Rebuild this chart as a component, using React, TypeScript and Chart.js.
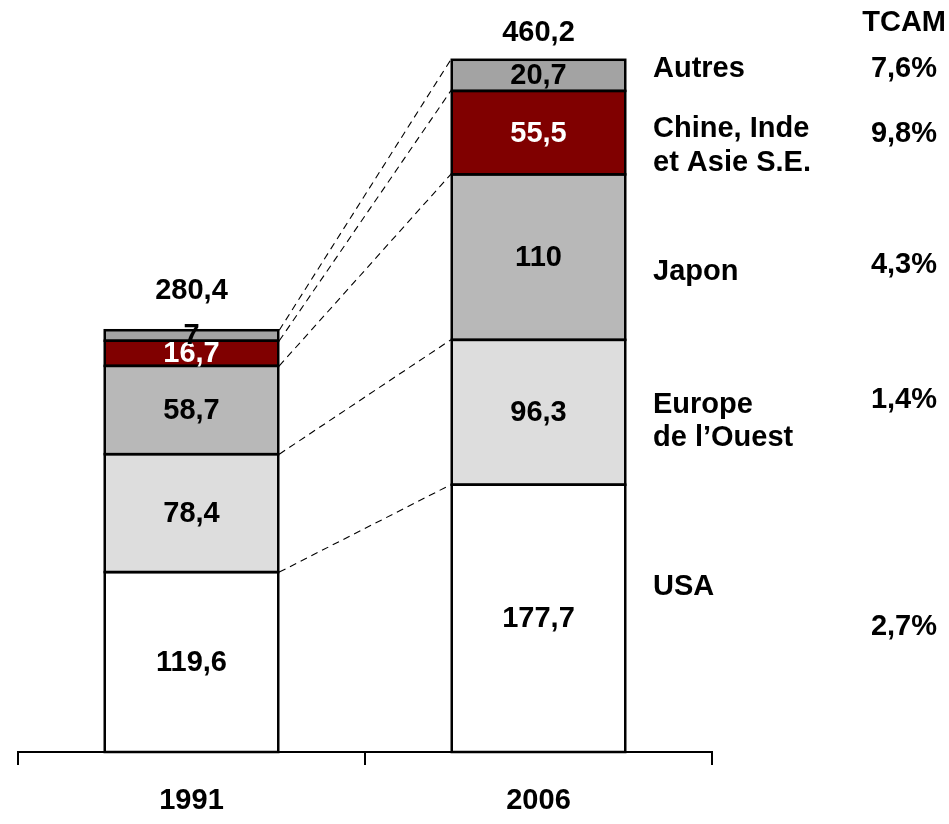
import React, { useEffect, useRef } from "react";
import { Chart, registerables } from "chart.js";

Chart.register(...registerables);

const years = ["1991", "2006"];
const seriesNames = ["USA", "Europe de l’Ouest", "Japon", "Chine, Inde et Asie S.E.", "Autres"];
const usa = [119.6, 177.7];
const europe = [78.4, 96.3];
const japon = [58.7, 110];
const chine = [16.7, 55.5];
const autres = [7, 20.7];
const rightLabels = [["USA"], ["Europe", "de l’Ouest"], ["Japon"], ["Chine, Inde", "et Asie S.E."], ["Autres"]];
const tcam = ["2,7%", "1,4%", "4,3%", "9,8%", "7,6%"];
const tcamTitle = "TCAM";

const colors = ["#FFFFFF", "#DDDDDD", "#B8B8B8", "#800000", "#A3A3A3"];
const labelColors = ["#000", "#000", "#000", "#FFF", "#000"];

const fmt = (v: number) => String(Math.round(v * 10) / 10).replace(".", ",");
const FAMILY = "'Liberation Sans', Arial, sans-serif";
const FONT = `bold 29px ${FAMILY}`;

const annotPlugin = {
  id: "annot",
  afterDatasetsDraw(chart: any) {
    const ctx = chart.ctx;
    const n = chart.data.datasets.length;
    ctx.save();
    // outlines
    ctx.strokeStyle = "#000";
    ctx.lineWidth = 2.5;
    for (let i = 0; i < n; i++) {
      chart.getDatasetMeta(i).data.forEach((el: any) => {
        ctx.strokeRect(el.x - el.width / 2, el.y, el.width, el.base - el.y);
      });
    }
    // dashed connectors
    ctx.lineWidth = 1.1;
    ctx.setLineDash([7, 5]);
    for (let i = 0; i < n; i++) {
      const a = chart.getDatasetMeta(i).data[0];
      const b = chart.getDatasetMeta(i).data[1];
      ctx.beginPath();
      ctx.moveTo(a.x + a.width / 2 + 1, a.y);
      ctx.lineTo(b.x - b.width / 2 - 1, b.y);
      ctx.stroke();
    }
    ctx.setLineDash([]);
    // values
    ctx.font = FONT;
    ctx.textAlign = "center";
    ctx.textBaseline = "middle";
    for (let i = 0; i < n; i++) {
      const meta = chart.getDatasetMeta(i);
      meta.data.forEach((el: any, j: number) => {
        const v = chart.data.datasets[i].data[j];
        ctx.fillStyle = labelColors[i];
        ctx.fillText(fmt(v), el.x, (el.y + el.base) / 2 + 1);
      });
    }
    // totals
    const totalOffsets = [39, 27];
    years.forEach((_, j) => {
      let s = 0;
      for (let i = 0; i < n; i++) s += chart.data.datasets[i].data[j];
      const top = chart.getDatasetMeta(n - 1).data[j];
      ctx.fillStyle = "#000";
      ctx.fillText(fmt(s), top.x, top.y - totalOffsets[j]);
    });
    // right labels
    const labelOffsets = [[-31], [-7, 26], [15], [-4, 30], [-6]];
    const tcamOffsets = [9, -12, 8, 1, -6];
    for (let i = 0; i < n; i++) {
      const el = chart.getDatasetMeta(i).data[1];
      const cy = (el.y + el.base) / 2;
      ctx.textAlign = "left";
      ctx.fillStyle = "#000";
      rightLabels[i].forEach((line, k) => {
        ctx.fillText(line, 653, cy + labelOffsets[i][k]);
      });
      ctx.textAlign = "right";
      ctx.fillText(tcam[i], 937, cy + tcamOffsets[i]);
    }
    ctx.textAlign = "right";
    ctx.fillText(tcamTitle, 946, 23);
    ctx.restore();
  },
};

export default function App() {
  const ref = useRef<HTMLCanvasElement>(null);
  useEffect(() => {
    document.body.style.margin = "0";
    const data = [usa, europe, japon, chine, autres];
    const chart = new Chart(ref.current!, {
      type: "bar",
      data: {
        labels: years,
        datasets: seriesNames.map((name, i) => ({
          label: name,
          data: data[i],
          backgroundColor: colors[i],
          borderWidth: 0,
          barPercentage: 1,
          categoryPercentage: 0.5,
        })),
      },
      options: {
        responsive: false,
        animation: false,
        layout: { padding: { left: 18, right: 237, top: 30, bottom: 0 } },
        plugins: { legend: { display: false }, tooltip: { enabled: false } },
        scales: {
          x: {
            stacked: true,
            afterFit: (scale: any) => {
              scale.height = 72;
            },
            grid: {
              display: true,
              drawOnChartArea: false,
              offset: true,
              tickLength: 13,
              color: "#000",
              lineWidth: 2,
            },
            border: { display: true, color: "#000", width: 2 },
            ticks: {
              color: "#000",
              font: { family: FAMILY, size: 29, weight: "bold" },
              padding: 19,
            },
          },
          y: {
            stacked: true,
            display: false,
            min: 0,
            max: 480,
          },
        },
      },
      plugins: [annotPlugin],
    });
    return () => chart.destroy();
  }, []);
  return <canvas ref={ref} width={949} height={824} />;
}
